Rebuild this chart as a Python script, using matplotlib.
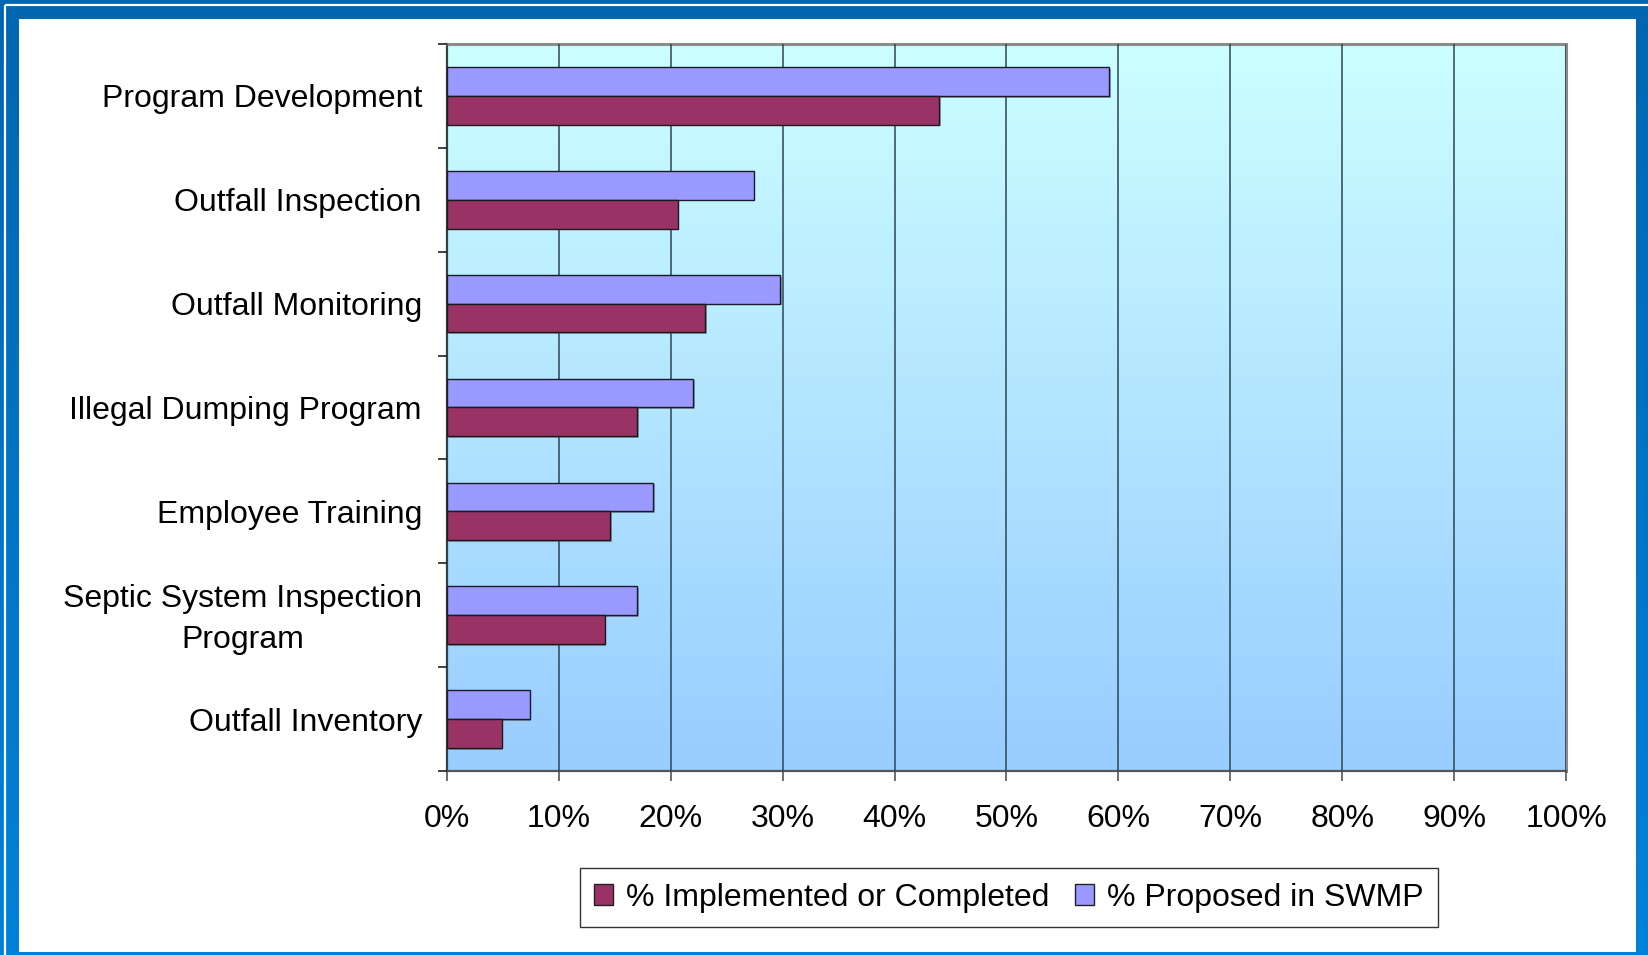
import numpy as np
import matplotlib
matplotlib.use("Agg")
import matplotlib.pyplot as plt
from matplotlib.patches import Rectangle
from matplotlib.colors import LinearSegmentedColormap
from matplotlib.transforms import ScaledTranslation
import matplotlib.patheffects as pe

# Program components and their shares (percent)
categories = [
    "Program Development",
    "Outfall Inspection",
    "Outfall Monitoring",
    "Illegal Dumping Program",
    "Employee Training",
    "Septic System Inspection\nProgram",
    "Outfall Inventory",
]
proposed = [59.2, 27.4, 29.8, 22.0, 18.4, 17.0, 7.4]
implemented = [44.0, 20.6, 23.1, 17.0, 14.6, 14.1, 4.9]
x_ticks = list(range(0, 101, 10))
x_tick_labels = [f"{v}%" for v in x_ticks]

W, H = 1649, 955
FONT = "Liberation Sans"
FS = 23.0
plt.rcParams["font.family"] = [FONT, "DejaVu Sans"]

fig = plt.figure(figsize=(W / 100, H / 100), dpi=100)

# Slide frame: blue gradient with a thin white inset line and a white panel
bg = fig.add_axes([0, 0, 1, 1], zorder=0)
bg.set_xlim(0, W)
bg.set_ylim(H, 0)
bg.axis("off")
frame_cmap = LinearSegmentedColormap.from_list("frame", ["#0066b0", "#0082da"])
grad = np.linspace(0, 1, 256).reshape(-1, 1)
bg.imshow(grad, cmap=frame_cmap, aspect="auto", extent=(0, W, H, 0), zorder=0)
bg.add_patch(Rectangle((5, 5), W, H, facecolor="none", edgecolor="white",
                       linewidth=1.6, zorder=1))
bg.add_patch(Rectangle((19, 19), 1636 - 19, 952 - 19, facecolor="white",
                       edgecolor="none", zorder=2))

# Plot area
left, right, top, bottom = 447, 1566, 44, 771
ax = fig.add_axes([left / W, 1 - bottom / H, (right - left) / W, (bottom - top) / H],
                  zorder=2)
n = len(categories)
ax.set_xlim(0, 100)
ax.set_ylim(n, 0)

plot_cmap = LinearSegmentedColormap.from_list("plot", ["#ccffff", "#99ccff"])
ax.imshow(grad, cmap=plot_cmap, aspect="auto", extent=(0, 100, n, 0), zorder=0)

ax.set_xticks(x_ticks)
ax.set_xticklabels(x_tick_labels)
ax.xaxis.grid(True, color="#2b4652", linewidth=1.1, zorder=1)
ax.set_axisbelow(False)

bar_h = 0.277
centers = np.arange(n) + 0.5
shadow = [pe.SimplePatchShadow(offset=(1.2, -1.2), shadow_rgbFace="#555555", alpha=0.5),
          pe.Normal()]
b1 = ax.barh(centers - bar_h / 2, proposed, height=bar_h, color="#9999ff",
             edgecolor="#1a1a2a", linewidth=1.0, zorder=3,
             label="% Proposed in SWMP")
b2 = ax.barh(centers + bar_h / 2, implemented, height=bar_h, color="#993366",
             edgecolor="#1a1a1a", linewidth=1.0, zorder=3,
             label="% Implemented or Completed")
for p in list(b1) + list(b2):
    p.set_path_effects(shadow)

# Category ticks sit at group boundaries, labels centred on each group
ax.set_yticks(np.arange(n + 1))
ax.set_yticklabels([])
ax.set_yticks(centers, minor=True)
ax.set_yticklabels(categories, minor=True)
ax.tick_params(axis="y", which="minor", length=0, pad=18.0, labelsize=FS)
ax.tick_params(axis="y", which="major", length=6.8, width=1.2, color="#222222")
ax.tick_params(axis="x", length=7, width=1.2, color="#555555", pad=17,
               labelsize=FS)
lift = ScaledTranslation(0, 5 / 100, fig.dpi_scale_trans)
for lbl in ax.get_yticklabels(minor=True):
    lbl.set_multialignment("center")
    if "\n" in lbl.get_text():
        lbl.set_linespacing(1.5)
        lbl.set_transform(lbl.get_transform() + lift)

for side in ("top", "right"):
    ax.spines[side].set_color("#8a8a8a")
    ax.spines[side].set_linewidth(2.2)
ax.spines["left"].set_color("#3a3a3a")
ax.spines["left"].set_linewidth(1.6)
ax.spines["bottom"].set_color("#555555")
ax.spines["bottom"].set_linewidth(1.6)

leg = fig.legend(handles=[b2, b1], labels=["% Implemented or Completed", "% Proposed in SWMP"],
                 loc="center", bbox_to_anchor=(1009 / W, 1 - 897.7 / H), ncol=2,
                 fontsize=FS, frameon=True, fancybox=False, handlelength=0.6,
                 handleheight=0.6, handletextpad=0.4, columnspacing=0.8,
                 borderpad=0.45, borderaxespad=0)
leg.get_frame().set_edgecolor("#000000")
leg.get_frame().set_linewidth(1.0)
leg.set_zorder(5)
for h in leg.legend_handles:
    h.set_path_effects([])
    h.set_edgecolor("#222222")

fig.savefig("out.png", dpi=100)
